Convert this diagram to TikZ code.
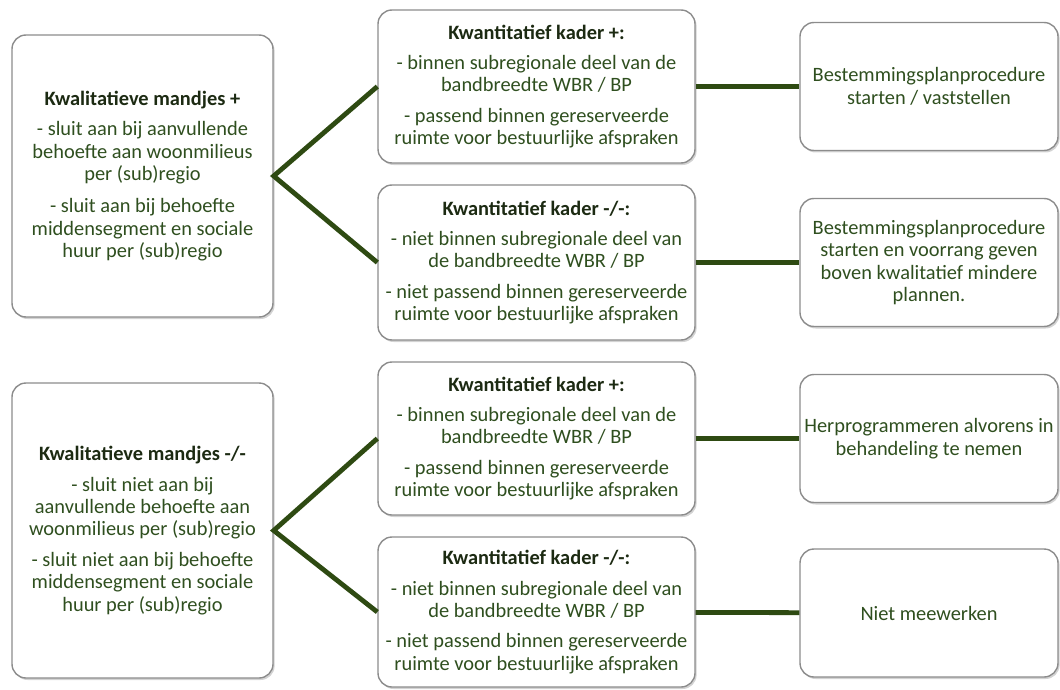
\documentclass[tikz,border=0pt]{standalone}
\usepackage{fontspec}
\setmainfont{Carlito}
\usetikzlibrary{shadows}
\definecolor{tekst}{HTML}{2F4F1F}
\definecolor{kop}{HTML}{1C2A12}
\definecolor{lijn}{HTML}{2E4A12}
\definecolor{rand}{HTML}{8C8C8C}

\tikzset{
  kader/.style={draw=rand, line width=0.7pt, rounded corners=7pt, fill=white,
    align=center, text=tekst, font=\fontsize{10.2}{11.2}\selectfont, inner sep=1pt,
    drop shadow={shadow xshift=0.8pt, shadow yshift=-1pt, opacity=0.35}},
  mandje/.style={kader, minimum width=130.5pt},
  kwant/.style={kader, minimum width=158.5pt},
  besluit/.style={kader, minimum width=129pt, minimum height=64pt},
  tak/.style={draw=lijn, line width=2.4pt}
}
\newcommand{\kop}[1]{{\bfseries\color{kop}#1}}

\begin{document}
\begin{tikzpicture}[x=0.5pt, y=-0.5pt]
  \useasboundingbox (0,0) rectangle (1060,690);

  % kwalitatieve mandjes
  \node[mandje, minimum height=141pt] (mandPlus) at (142.5,176)
    {\kop{Kwalitatieve mandjes +}\\[4pt]
     - sluit aan bij aanvullende\\behoefte aan woonmilieus\\per (sub)regio\\[5pt]
     - sluit aan bij behoefte\\middensegment en sociale\\huur per (sub)regio};
  \node[mandje, minimum height=147.5pt] (mandMin) at (142.5,530.5)
    {\kop{Kwalitatieve mandjes -/-}\\[4pt]
     - sluit niet aan bij\\aanvullende behoefte aan\\woonmilieus per (sub)regio\\[4pt]
     - sluit niet aan bij behoefte\\middensegment en sociale\\huur per (sub)regio};

  % kwantitatief kader
  \node[kwant, minimum height=76.5pt] (kwantPlusA) at (536.5,86.5)
    {\kop{Kwantitatief kader +:}\\[4pt]
     - binnen subregionale deel van de\\bandbreedte WBR / BP\\[4pt]
     - passend binnen gereserveerde\\ruimte voor bestuurlijke afspraken};
  \node[kwant, minimum height=77.5pt] (kwantMinA) at (536.5,262.5)
    {\kop{Kwantitatief kader -/-:}\\[4pt]
     - niet binnen subregionale deel van\\de bandbreedte WBR / BP\\[4pt]
     - niet passend binnen gereserveerde\\ruimte voor bestuurlijke afspraken};
  \node[kwant, minimum height=76.5pt] (kwantPlusB) at (536.5,438.5)
    {\kop{Kwantitatief kader +:}\\[4pt]
     - binnen subregionale deel van de\\bandbreedte WBR / BP\\[4pt]
     - passend binnen gereserveerde\\ruimte voor bestuurlijke afspraken};
  \node[kwant, minimum height=75pt] (kwantMinB) at (536.5,612)
    {\kop{Kwantitatief kader -/-:}\\[4pt]
     - niet binnen subregionale deel van\\de bandbreedte WBR / BP\\[4pt]
     - niet passend binnen gereserveerde\\ruimte voor bestuurlijke afspraken};

  % besluiten
  \node[besluit] (besluitA) at (929,86.5)
    {Bestemmingsplanprocedure\\starten / vaststellen};
  \node[besluit] (besluitB) at (929,262.5)
    {Bestemmingsplanprocedure\\starten en voorrang geven\\boven kwalitatief mindere\\plannen.};
  \node[besluit] (besluitC) at (929,438.5)
    {Herprogrammeren alvorens in\\behandeling te nemen};
  \node[besluit] (besluitD) at (929,613)
    {Niet meewerken};

  % takken
  \draw[tak] (kwantPlusA.west) -- (mandPlus.east) -- (kwantMinA.west);
  \draw[tak] (kwantPlusB.west) -- (mandMin.east) -- (kwantMinB.west);

  \path[tak] (kwantPlusA) edge (besluitA);
  \path[tak] (kwantMinA) edge (besluitB);
  \path[tak] (kwantPlusB) edge (besluitC);
  \path[tak] (kwantMinB) edge (besluitD);
\end{tikzpicture}
\end{document}
